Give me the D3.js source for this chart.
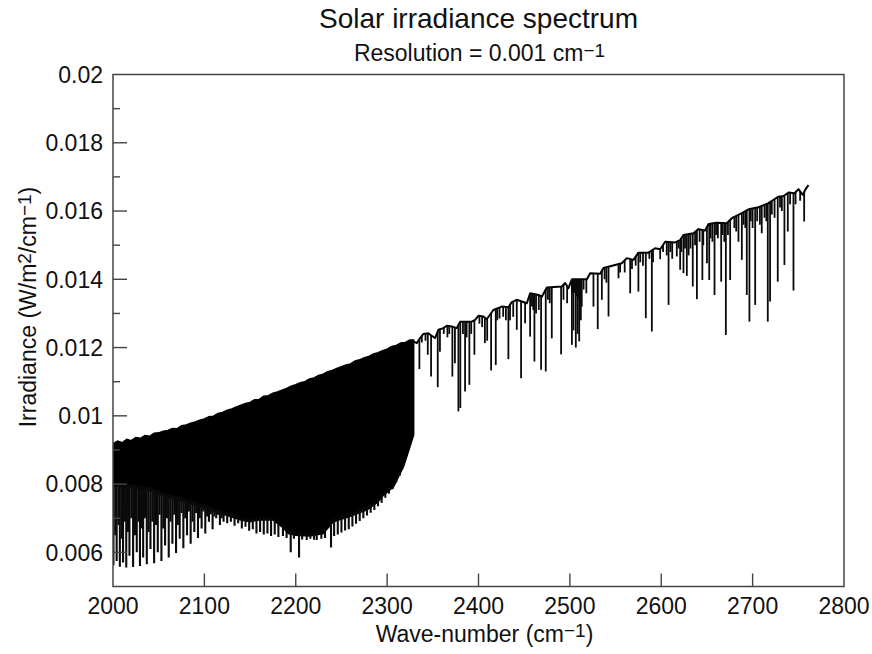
<!DOCTYPE html>
<html>
<head>
<meta charset="utf-8">
<script src="https://cdn.jsdelivr.net/npm/d3@7"></script>
<style>
  html, body { margin: 0; padding: 0; background: #fff; }
  svg { display: block; font-family: "Liberation Sans", Arial, Helvetica, sans-serif; }
</style>
</head>
<body>
<svg id="chart" width="872" height="654"></svg>
<script>
// ---------- axis ticks ----------
const xTicks = [2000, 2100, 2200, 2300, 2400, 2500, 2600, 2700, 2800];
const xTickLabels = ["2000", "2100", "2200", "2300", "2400", "2500", "2600", "2700", "2800"];
const yTicks = [0.006, 0.008, 0.01, 0.012, 0.014, 0.016, 0.018, 0.02];
const yTickLabels = ["0.006", "0.008", "0.01", "0.012", "0.014", "0.016", "0.018", "0.02"];
const yMinorTicks = [0.007, 0.009, 0.011, 0.013, 0.015, 0.017, 0.019];

// ---------- dense absorption band (2000-2330 cm-1) ----------
// upper edge of the band: [wave-number, irradiance]
const bandTop = [
  [2000, 0.00918], [2005, 0.00926], [2010, 0.00921], [2015, 0.00931], [2020, 0.00927],
  [2025, 0.00936], [2030, 0.00934], [2035, 0.00942], [2040, 0.00940], [2045, 0.00949],
  [2050, 0.00950], [2055, 0.00955], [2060, 0.00957], [2065, 0.00963], [2070, 0.00962],
  [2075, 0.00971], [2080, 0.00973], [2085, 0.00978], [2090, 0.00982], [2095, 0.00987],
  [2100, 0.00991], [2105, 0.00997], [2110, 0.00999], [2115, 0.01007], [2120, 0.01010],
  [2125, 0.01016], [2130, 0.01020], [2135, 0.01026], [2140, 0.01031], [2145, 0.01036],
  [2150, 0.01039], [2155, 0.01047], [2160, 0.01048], [2165, 0.01057], [2170, 0.01059],
  [2175, 0.01066], [2180, 0.01070], [2185, 0.01075], [2190, 0.01080], [2195, 0.01087],
  [2200, 0.01091], [2205, 0.01097], [2210, 0.01100], [2215, 0.01108], [2220, 0.01111],
  [2225, 0.01118], [2230, 0.01122], [2235, 0.01129], [2240, 0.01133], [2245, 0.01139],
  [2250, 0.01144], [2255, 0.01149], [2260, 0.01152], [2265, 0.01161], [2270, 0.01164],
  [2275, 0.01170], [2280, 0.01174], [2285, 0.01181], [2290, 0.01185], [2295, 0.01191],
  [2300, 0.01195], [2305, 0.01203], [2310, 0.01206], [2315, 0.01213], [2320, 0.01215],
  [2325, 0.01222], [2329, 0.01222]
];
// lower edge of the solid part of the band
const bandCore = [
  [2000, 0.00795], [2020, 0.00790], [2040, 0.00782], [2060, 0.00762], [2080, 0.00748],
  [2095, 0.00735], [2113, 0.00718], [2125, 0.00708], [2140, 0.00695], [2150, 0.00690],
  [2160, 0.00695], [2175, 0.00695], [2185, 0.00675], [2192, 0.00655], [2200, 0.00650],
  [2215, 0.00648], [2230, 0.00655], [2241, 0.00690], [2259, 0.00705], [2278, 0.00725],
  [2290, 0.00748], [2296, 0.00768], [2307, 0.00792], [2318, 0.00852], [2325, 0.00910],
  [2329, 0.00944]
];
// individual band lines reaching below the solid part: [wave-number, line bottom]
const bandLines = [
  [2000.5, 0.00562], [2002.5, 0.00650], [2004, 0.00575], [2006, 0.00680], [2007.5, 0.00558],
  [2009.5, 0.00640], [2011, 0.00570], [2013, 0.00690], [2014.5, 0.00556], [2016.5, 0.00660],
  [2018, 0.00590], [2020, 0.00700], [2022, 0.00557], [2024, 0.00650], [2026, 0.00600],
  [2028, 0.00690], [2029.5, 0.00560], [2031.5, 0.00670], [2033, 0.00585], [2035, 0.00700],
  [2037, 0.00565], [2039, 0.00660], [2041, 0.00610], [2043, 0.00690], [2045, 0.00568],
  [2047, 0.00680], [2049, 0.00600], [2051, 0.00710], [2053, 0.00575], [2055, 0.00670],
  [2057, 0.00620], [2059, 0.00700], [2061, 0.00585], [2063, 0.00690], [2065, 0.00625],
  [2067, 0.00710], [2069, 0.00598], [2071, 0.00680], [2073, 0.00640], [2075, 0.00715],
  [2077, 0.00612], [2079, 0.00700], [2081, 0.00650], [2083, 0.00720], [2085, 0.00625],
  [2087, 0.00690], [2089, 0.00660], [2091, 0.00715], [2093, 0.00642], [2095, 0.00700],
  [2097, 0.00670], [2099, 0.00720], [2101, 0.00655], [2103, 0.00705], [2105, 0.00690],
  [2107, 0.00712], [2109, 0.00668], [2111, 0.00705], [2113, 0.00700], [2115, 0.00710],
  [2117, 0.00680], [2119, 0.00700], [2121, 0.00690], [2125, 0.00685], [2129, 0.00690],
  [2133, 0.00678], [2137, 0.00685], [2141, 0.00670], [2145, 0.00675], [2149, 0.00663],
  [2153, 0.00668], [2157, 0.00655], [2161, 0.00660], [2165, 0.00652], [2169, 0.00655],
  [2173, 0.00648], [2177, 0.00652], [2181, 0.00645], [2186, 0.00648], [2190, 0.00642],
  [2194.5, 0.00600], [2198, 0.00640], [2203.6, 0.00585], [2207, 0.00638], [2212, 0.00636],
  [2216, 0.00640], [2220, 0.00637], [2223, 0.00636], [2228, 0.00640], [2232, 0.00642],
  [2238.6, 0.00614], [2242, 0.00648], [2246, 0.00652], [2250, 0.00658], [2254, 0.00664],
  [2258, 0.00668], [2262, 0.00676], [2266, 0.00684], [2270, 0.00692], [2274, 0.00700],
  [2278, 0.00708], [2282, 0.00716], [2286, 0.00724], [2290, 0.00735], [2294, 0.00745],
  [2298, 0.00760], [2302, 0.00772], [2306, 0.00785], [2310, 0.00805], [2314, 0.00825]
];

// ---------- continuum above 2330 cm-1 ----------
const continuum = [
  [2328.7, 0.01218], [2332.4, 0.01213], [2336.1, 0.01228], [2339.7, 0.01240], [2345.2, 0.01242],
  [2348.9, 0.01234], [2352.5, 0.01228], [2356.1, 0.01252], [2361.6, 0.01257], [2365.3, 0.01264],
  [2370.8, 0.01262], [2376.2, 0.01257], [2379.9, 0.01276], [2392.6, 0.01276], [2396.3, 0.01281],
  [2399.9, 0.01293], [2405.4, 0.01291], [2409.0, 0.01283], [2416.3, 0.01310], [2425.5, 0.01320],
  [2432.7, 0.01318], [2436.4, 0.01333], [2441.9, 0.01340], [2447.4, 0.01335], [2452.9, 0.01330],
  [2456.5, 0.01359], [2465.6, 0.01354], [2469.3, 0.01349], [2474.8, 0.01376], [2491.2, 0.01379],
  [2494.8, 0.01389], [2498.4, 0.01374], [2502.2, 0.01400], [2518.6, 0.01400], [2522.2, 0.01418],
  [2533.1, 0.01416], [2536.8, 0.01433], [2549.5, 0.01442], [2556.8, 0.01447], [2562.3, 0.01462],
  [2569.6, 0.01457], [2575.0, 0.01478], [2586.0, 0.01478], [2593.3, 0.01491], [2598.8, 0.01488],
  [2604.3, 0.01510], [2615.2, 0.01508], [2620.7, 0.01515], [2624.3, 0.01530], [2635.3, 0.01535],
  [2640.7, 0.01547], [2648.0, 0.01543], [2651.7, 0.01562], [2660.8, 0.01566], [2671.7, 0.01564],
  [2677.3, 0.01579], [2688.2, 0.01594], [2695.5, 0.01605], [2706.4, 0.01611], [2717.4, 0.01623],
  [2722.9, 0.01633], [2728.3, 0.01642], [2733.8, 0.01644], [2739.3, 0.01654], [2745.8, 0.01652],
  [2750.2, 0.01664], [2755.0, 0.01647], [2757.5, 0.01662], [2761.1, 0.01676]
];
// strong absorption lines: [wave-number, line bottom]
const strongLines = [
  [2335.3, 0.01137], [2344.5, 0.01179], [2348.1, 0.01115], [2355.4, 0.01084], [2357.8, 0.01188],
  [2371.4, 0.01115], [2374.2, 0.01154], [2378.0, 0.01013], [2380.1, 0.01023], [2385.3, 0.01071],
  [2390.0, 0.01091], [2395.5, 0.01179], [2407.0, 0.01213], [2409.5, 0.01220], [2413.8, 0.01133],
  [2418.9, 0.01149], [2432.7, 0.01166], [2441.9, 0.01252], [2446.6, 0.01110], [2451.0, 0.01271],
  [2456.5, 0.01232], [2461.2, 0.01159], [2468.5, 0.01135], [2473.6, 0.01130], [2480.2, 0.01227],
  [2490.4, 0.01180], [2502.2, 0.01208], [2504.0, 0.01250], [2506.5, 0.01200], [2508.5, 0.01240],
  [2510.2, 0.01218], [2512.0, 0.01280], [2513.0, 0.01320], [2518.0, 0.01359], [2525.8, 0.01320],
  [2530.5, 0.01254], [2535.0, 0.01340], [2542.3, 0.01291], [2553.2, 0.01403], [2566.0, 0.01359],
  [2575.0, 0.01364], [2583.1, 0.01286], [2589.7, 0.01247], [2598.8, 0.01459], [2608.0, 0.01325],
  [2617.0, 0.01467], [2620.7, 0.01428], [2624.3, 0.01418], [2628.0, 0.01410], [2634.5, 0.01379],
  [2639.0, 0.01342], [2645.0, 0.01398], [2650.0, 0.01447], [2652.5, 0.01398], [2658.3, 0.01354],
  [2665.6, 0.01393], [2670.7, 0.01237], [2675.4, 0.01398], [2684.5, 0.01510], [2688.2, 0.01457],
  [2693.6, 0.01354], [2696.5, 0.01276], [2702.8, 0.01325], [2710.0, 0.01535], [2716.6, 0.01276],
  [2719.1, 0.01335], [2727.5, 0.01393], [2734.8, 0.01442], [2738.5, 0.01540], [2744.7, 0.01367],
  [2756.4, 0.01569]
];
// weak lines that thicken the line clusters
const weakLines = [
  [2338, 0.01215], [2342, 0.01220], [2362, 0.01240], [2366, 0.01230], [2368, 0.01240],
  [2383, 0.01240], [2387, 0.01230], [2392, 0.01240], [2401, 0.01270], [2404, 0.01260],
  [2420.5, 0.01280], [2423, 0.01285], [2427, 0.01290], [2430, 0.01280], [2434.5, 0.01280],
  [2438, 0.01290], [2458.5, 0.01320], [2460, 0.01310], [2463, 0.01300], [2466, 0.01310],
  [2476, 0.01340], [2478, 0.01330], [2493, 0.01340], [2497, 0.01330], [2503, 0.01360],
  [2505, 0.01360], [2507.5, 0.01350], [2509, 0.01340], [2511, 0.01360], [2515, 0.01370],
  [2538, 0.01400], [2540, 0.01390], [2555, 0.01420], [2560, 0.01420], [2568, 0.01430],
  [2572, 0.01440], [2577, 0.01450], [2580, 0.01440], [2587, 0.01460], [2591, 0.01450],
  [2602, 0.01480], [2606, 0.01470], [2610, 0.01480], [2612, 0.01460], [2619, 0.01490],
  [2622, 0.01480], [2626, 0.01490], [2630, 0.01470], [2632, 0.01490], [2637, 0.01500],
  [2642, 0.01510], [2646, 0.01500], [2654, 0.01520], [2656, 0.01510], [2660, 0.01530],
  [2662, 0.01520], [2667, 0.01530], [2669, 0.01510], [2673, 0.01530], [2680, 0.01550],
  [2682, 0.01540], [2690, 0.01560], [2692, 0.01550], [2698, 0.01570], [2700, 0.01550],
  [2705, 0.01570], [2708, 0.01560], [2713, 0.01580], [2715, 0.01570], [2721, 0.01590],
  [2724, 0.01580], [2730, 0.01610], [2732, 0.01600], [2741, 0.01620], [2747, 0.01620],
  [2752, 0.01630]
];

// ---------- layout ----------
const plot = { left: 113, right: 844, top: 74.5, bottom: 586.5 };
const x = d3.scaleLinear().domain([2000, 2800]).range([plot.left, plot.right]);
const y = d3.scaleLinear().domain([0.005, 0.02]).range([plot.bottom, plot.top]);

const svg = d3.select("#chart");

svg.append("defs").append("clipPath").attr("id", "plotClip")
  .append("rect")
  .attr("x", plot.left).attr("y", plot.top)
  .attr("width", plot.right - plot.left).attr("height", plot.bottom - plot.top);

const data = svg.append("g").attr("clip-path", "url(#plotClip)");

// solid body of the band
const bandOutline = bandTop.concat(bandCore.slice().reverse());
const poly = d3.line().x(d => x(d[0])).y(d => y(d[1]));
data.append("path")
  .attr("d", poly(bandOutline) + "Z")
  .attr("fill", "#000")
  .attr("stroke", "#000")
  .attr("stroke-width", 1.6)
  .attr("stroke-linejoin", "miter");

// band lines hanging from the solid part
const coreAt = d3.scaleLinear()
  .domain(bandCore.map(d => d[0]))
  .range(bandCore.map(d => d[1]));
data.append("g").selectAll("line")
  .data(bandLines)
  .join("line")
  .attr("x1", d => x(d[0])).attr("x2", d => x(d[0]))
  .attr("y1", d => y(coreAt(d[0])) - 3)
  .attr("y2", d => y(d[1]))
  .attr("stroke", "#0a0a0a")
  .attr("stroke-width", 2.1);

// continuum
data.append("path")
  .datum(continuum)
  .attr("d", d3.line().x(d => x(d[0])).y(d => y(d[1])))
  .attr("fill", "none")
  .attr("stroke", "#000")
  .attr("stroke-width", 2)
  .attr("stroke-linejoin", "round");

// absorption lines dropping from the continuum
const contAt = d3.scaleLinear()
  .domain(continuum.map(d => d[0]))
  .range(continuum.map(d => d[1]));
function drawLines(rows, width) {
  data.append("g").selectAll("line")
    .data(rows)
    .join("line")
    .attr("x1", d => x(d[0])).attr("x2", d => x(d[0]))
    .attr("y1", d => y(contAt(d[0])))
    .attr("y2", d => y(d[1]))
    .attr("stroke", "#0a0a0a")
    .attr("stroke-width", width);
}
drawLines(weakLines, 1.8);
drawLines(strongLines, 1.8);

// ---------- frame and ticks ----------
const axisColor = "#444";
svg.append("rect")
  .attr("x", plot.left).attr("y", plot.top)
  .attr("width", plot.right - plot.left).attr("height", plot.bottom - plot.top)
  .attr("fill", "none").attr("stroke", axisColor).attr("stroke-width", 1.5);

const axes = svg.append("g").attr("stroke", axisColor).attr("stroke-width", 1.4);
axes.selectAll("line.ymaj").data(yTicks.filter(v => v < 0.02)).join("line")
  .attr("class", "ymaj")
  .attr("x1", plot.left).attr("x2", plot.left + 14)
  .attr("y1", d => y(d)).attr("y2", d => y(d));
axes.selectAll("line.ymin").data(yMinorTicks).join("line")
  .attr("class", "ymin")
  .attr("x1", plot.left).attr("x2", plot.left + 7)
  .attr("y1", d => y(d)).attr("y2", d => y(d));
axes.selectAll("line.xmaj").data(xTicks.filter(v => v > 2000 && v < 2800)).join("line")
  .attr("class", "xmaj")
  .attr("x1", d => x(d)).attr("x2", d => x(d))
  .attr("y1", plot.bottom).attr("y2", plot.bottom - 13);

// tick labels
const labels = svg.append("g").attr("fill", "#111").attr("font-size", 23);
labels.selectAll("text.yl").data(yTicks).join("text")
  .attr("class", "yl")
  .attr("x", plot.left - 10)
  .attr("y", d => y(d))
  .attr("dy", "0.36em")
  .attr("text-anchor", "end")
  .text((d, i) => yTickLabels[i]);
labels.selectAll("text.xl").data(xTicks).join("text")
  .attr("class", "xl")
  .attr("x", d => x(d))
  .attr("y", 614)
  .attr("text-anchor", "middle")
  .text((d, i) => xTickLabels[i]);

// ---------- titles ----------
const cx = (plot.left + plot.right) / 2;
svg.append("text")
  .attr("x", cx).attr("y", 28)
  .attr("text-anchor", "middle").attr("font-size", 28).attr("fill", "#111")
  .text("Solar irradiance spectrum");

const sub = svg.append("text")
  .attr("x", cx + 1).attr("y", 61)
  .attr("text-anchor", "middle").attr("font-size", 23).attr("fill", "#111");
sub.append("tspan").text("Resolution = 0.001 cm");
sub.append("tspan").attr("font-size", 19).attr("dy", -4).text("\u22121");

const xl = svg.append("text")
  .attr("x", cx + 6).attr("y", 642)
  .attr("text-anchor", "middle").attr("font-size", 23).attr("fill", "#111");
xl.append("tspan").text("Wave-number (cm");
xl.append("tspan").attr("font-size", 19).attr("dy", -5).text("\u22121");
xl.append("tspan").attr("dy", 5).text(")");

const yl = svg.append("text")
  .attr("transform", "translate(36, 307) rotate(-90)")
  .attr("text-anchor", "middle").attr("font-size", 23).attr("fill", "#111");
yl.append("tspan").text("Irradiance (W/m");
yl.append("tspan").attr("font-size", 19).attr("dy", -5).text("2");
yl.append("tspan").attr("dy", 5).text("/cm");
yl.append("tspan").attr("font-size", 19).attr("dy", -5).text("\u22121");
yl.append("tspan").attr("dy", 5).text(")");
</script>
</body>
</html>
